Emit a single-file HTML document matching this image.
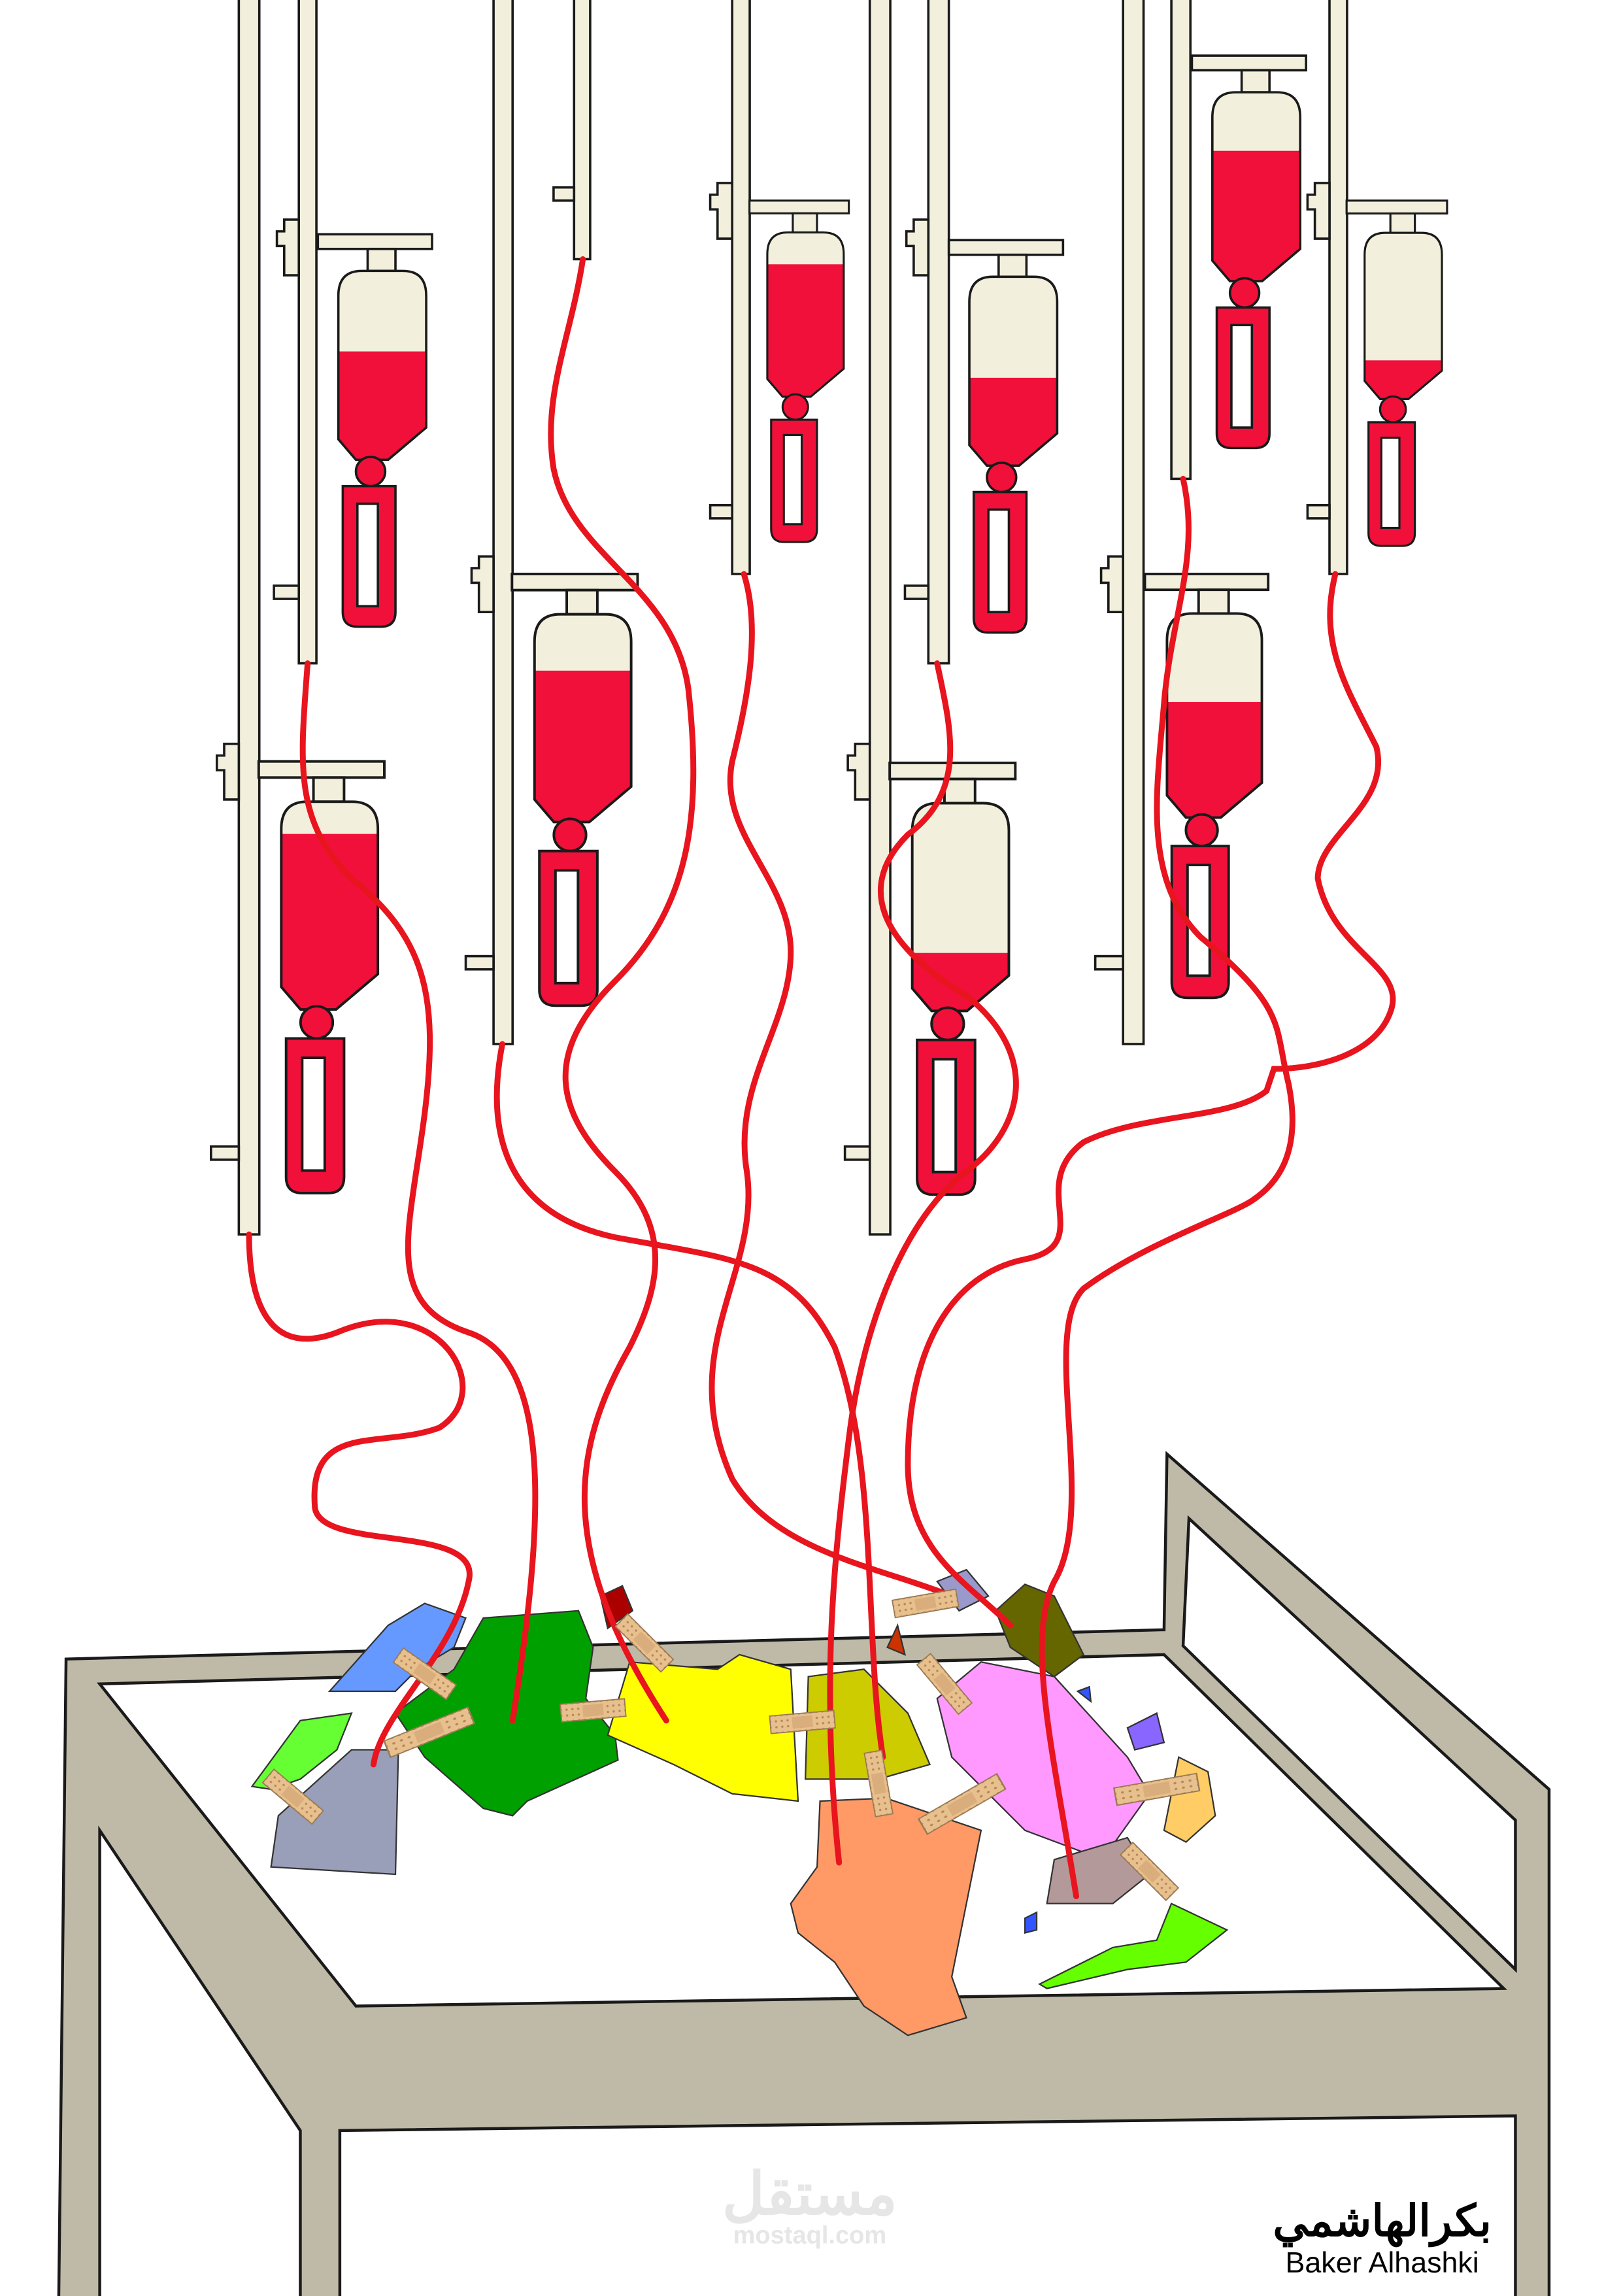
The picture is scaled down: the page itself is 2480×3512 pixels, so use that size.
<!DOCTYPE html>
<html><head><meta charset="utf-8"><style>
html,body{margin:0;padding:0;background:#fff}
svg{display:block}
</style></head><body>
<svg width="2480" height="3512" viewBox="0 0 1107 1568" xmlns="http://www.w3.org/2000/svg">
<defs>
<path id="body" d="M0,42 Q0,25 16,25 L44,25 Q60,25 60,42 L60,132 L34,154 L12,154 L0,140 Z"/>
<clipPath id="bc"><path d="M0,42 Q0,25 16,25 L44,25 Q60,25 60,42 L60,132 L34,154 L12,154 L0,140 Z"/></clipPath>
<g id="top" stroke="#1a1a1a" stroke-width="1.6" fill="#f2f0dc">
<rect x="-14" y="0" width="78" height="10"/>
<rect x="20" y="10" width="19" height="15"/>
</g>
<g id="low" stroke="#1a1a1a" stroke-width="1.6">
<circle cx="22" cy="162" r="10" fill="#f0103a"/>
<path d="M3,172 L39,172 L39,258 Q39,268 29,268 L13,268 Q3,268 3,258 Z" fill="#f0103a"/>
<rect x="13" y="184" width="14" height="70" fill="#fff"/>
</g>
<pattern id="dots" width="4" height="4" patternUnits="userSpaceOnUse"><rect width="4" height="4" fill="#e8c08e"/><circle cx="2" cy="2" r="0.8" fill="#b58a5a"/></pattern>
<g id="band"><rect x="-22" y="-6" width="44" height="12" fill="url(#dots)" stroke="#9a7a55" stroke-width="0.8"/><rect x="-7" y="-4" width="14" height="8" fill="#d9ae7c"/></g>
</defs>
<rect width="1107" height="1568" fill="#fff"/>

<g fill="#f2f0dc" stroke="#1a1a1a" stroke-width="1.6">
<rect x="163" y="-2" width="14" height="845"/>
<rect x="204" y="-2" width="12" height="455"/>
<rect x="337" y="-2" width="13" height="715"/>
<rect x="392" y="-2" width="11" height="179"/>
<rect x="500" y="-2" width="12" height="394"/>
<rect x="594" y="-2" width="14" height="845"/>
<rect x="634" y="-2" width="14" height="455"/>
<rect x="767" y="-2" width="14" height="715"/>
<rect x="800" y="-2" width="13" height="329"/>
<rect x="908" y="-2" width="12" height="394"/>
<path d="M204,150 h-10 v8 h-5 v10 h5 v20 h10 z"/><rect x="187" y="400" width="17" height="9"/>
<path d="M163,508 h-10 v8 h-5 v10 h5 v20 h10 z"/><rect x="144" y="783" width="19" height="9"/>
<path d="M337,380 h-10 v8 h-5 v10 h5 v20 h10 z"/><rect x="318" y="653" width="19" height="9"/>
<rect x="378" y="128" width="14" height="9"/>
<path d="M500,125 h-10 v8 h-5 v10 h5 v20 h10 z"/><rect x="485" y="345" width="15" height="9"/>
<path d="M594,508 h-10 v8 h-5 v10 h5 v20 h10 z"/><rect x="577" y="783" width="17" height="9"/>
<path d="M634,150 h-10 v8 h-5 v10 h5 v20 h10 z"/><rect x="618" y="400" width="16" height="9"/>
<path d="M767,380 h-10 v8 h-5 v10 h5 v20 h10 z"/><rect x="748" y="653" width="19" height="9"/>
<path d="M908,125 h-10 v8 h-5 v10 h5 v20 h10 z"/><rect x="893" y="345" width="15" height="9"/>
</g>

<g transform="translate(231,160)"><use href="#top"/><use href="#body" fill="#f2f0dc"/><rect y="80" width="60" height="100" fill="#f0103a" clip-path="url(#bc)"/><use href="#body" fill="none" stroke="#1a1a1a" stroke-width="1.6"/><use href="#low"/></g>
<g transform="translate(192,520) scale(1.1)"><use href="#top"/><use href="#body" fill="#f2f0dc"/><rect y="45" width="60" height="120" fill="#f0103a" clip-path="url(#bc)"/><use href="#body" fill="none" stroke="#1a1a1a" stroke-width="1.6"/><use href="#low"/></g>
<g transform="translate(365,392) scale(1.1)"><use href="#top"/><use href="#body" fill="#f2f0dc"/><rect y="60" width="60" height="120" fill="#f0103a" clip-path="url(#bc)"/><use href="#body" fill="none" stroke="#1a1a1a" stroke-width="1.6"/><use href="#low"/></g>
<g transform="translate(524,137) scale(0.87)"><use href="#top"/><use href="#body" fill="#f2f0dc"/><rect y="50" width="60" height="120" fill="#f0103a" clip-path="url(#bc)"/><use href="#body" fill="none" stroke="#1a1a1a" stroke-width="1.6"/><use href="#low"/></g>
<g transform="translate(662,164)"><use href="#top"/><use href="#body" fill="#f2f0dc"/><rect y="94" width="60" height="120" fill="#f0103a" clip-path="url(#bc)"/><use href="#body" fill="none" stroke="#1a1a1a" stroke-width="1.6"/><use href="#low"/></g>
<g transform="translate(623,521) scale(1.1)"><use href="#top"/><use href="#body" fill="#f2f0dc"/><rect y="118" width="60" height="120" fill="#f0103a" clip-path="url(#bc)"/><use href="#body" fill="none" stroke="#1a1a1a" stroke-width="1.6"/><use href="#low"/></g>
<g transform="translate(828,38)"><use href="#top"/><use href="#body" fill="#f2f0dc"/><rect y="65" width="60" height="120" fill="#f0103a" clip-path="url(#bc)"/><use href="#body" fill="none" stroke="#1a1a1a" stroke-width="1.6"/><use href="#low"/></g>
<g transform="translate(932,137) scale(0.88)"><use href="#top"/><use href="#body" fill="#f2f0dc"/><rect y="124" width="60" height="120" fill="#f0103a" clip-path="url(#bc)"/><use href="#body" fill="none" stroke="#1a1a1a" stroke-width="1.6"/><use href="#low"/></g>
<g transform="translate(797,392) scale(1.08)"><use href="#top"/><use href="#body" fill="#f2f0dc"/><rect y="81" width="60" height="120" fill="#f0103a" clip-path="url(#bc)"/><use href="#body" fill="none" stroke="#1a1a1a" stroke-width="1.6"/><use href="#low"/></g>

<path fill-rule="evenodd" fill="#bfbaa7" stroke="#1a1a1a" stroke-width="2"
d="M45,1133 L795,1113 L797,993 L1058,1222 L1058,1570 L1035,1570 L1035,1445 L232,1455 L232,1570 L205,1570 L205,1455 L68,1250 L68,1570 L40,1570 Z
M68,1150 L795,1130 L1027,1358 L243,1370 Z
M812,1037 L1035,1243 L1035,1345 L808,1124 Z"/>

<g stroke="#333" stroke-width="1">
<polygon fill="#6699ff" points="225,1155 265,1110 290,1095 318,1105 310,1125 285,1140 270,1155"/>
<polygon fill="#66ff33" points="172,1220 205,1175 240,1170 230,1195 205,1215 185,1222"/>
<polygon fill="#999fb8" points="190,1240 240,1195 272,1195 270,1280 185,1275"/>
<polygon fill="#00a000" points="270,1170 310,1140 330,1105 395,1100 405,1125 400,1160 420,1185 422,1202 360,1230 350,1240 330,1235 290,1200"/>
<polygon fill="#ffff00" points="415,1185 430,1135 490,1140 505,1130 540,1140 545,1230 500,1225 460,1205"/>
<polygon fill="#cccc00" points="550,1215 552,1145 590,1140 620,1170 635,1205 600,1215"/>
<polygon fill="#ff9966" points="540,1300 558,1275 560,1230 605,1228 670,1250 660,1300 650,1350 660,1378 620,1390 590,1370 570,1340 545,1320"/>
<polygon fill="#ff99ff" points="640,1160 670,1135 720,1145 770,1200 785,1225 760,1260 740,1265 700,1250 650,1200"/>
<polygon fill="#666600" points="680,1100 700,1082 720,1090 740,1130 720,1145 690,1125"/>
<polygon fill="#9999cc" points="640,1080 660,1072 675,1090 655,1100"/>
<polygon fill="#ffcc66" points="795,1250 805,1200 825,1210 830,1240 810,1258"/>
<polygon fill="#b39999" points="715,1300 720,1270 770,1255 785,1280 760,1300"/>
<polygon fill="#66ff00" points="710,1355 760,1330 790,1325 800,1300 838,1318 810,1340 770,1345 715,1358"/>
<polygon fill="#aa0000" points="410,1090 425,1083 432,1100 415,1112"/>
<polygon fill="#8866ff" points="770,1180 790,1170 795,1190 775,1195"/>
<polygon fill="#3355ff" points="736,1155 744,1152 745,1162"/>
<polygon fill="#3355ff" points="700,1310 708,1306 708,1318 700,1320"/>
<polygon fill="#cc3300" points="606,1125 613,1110 618,1130"/>
</g>

<g fill="none" stroke="#e8141e" stroke-width="4" stroke-linecap="round">
<path d="M170,843 C170,900 190,925 230,910 C300,880 340,950 300,975 C260,990 210,970 215,1030 C220,1060 330,1040 320,1080 C310,1130 260,1170 255,1205"/>
<path d="M210,453 C205,520 200,560 240,600 C290,640 300,680 290,760 C280,840 260,890 320,910 C380,930 370,1050 350,1175"/>
<path d="M398,177 C390,230 370,270 378,320 C390,380 460,400 470,470 C480,560 470,620 420,670 C370,720 380,760 420,800 C460,840 450,880 430,920 C390,990 380,1060 455,1175"/>
<path d="M343,713 C330,780 350,830 420,845 C500,860 540,860 570,920 C600,1000 590,1120 603,1200"/>
<path d="M508,392 C520,430 510,480 500,520 C490,570 540,600 540,650 C540,700 500,740 510,800 C520,870 460,920 500,1010 C530,1060 600,1070 650,1090"/>
<path d="M640,453 C650,500 660,540 620,570 C580,610 610,650 660,680 C710,720 700,770 660,800 C620,830 590,900 580,980 C570,1060 560,1150 573,1272"/>
<path d="M808,327 C820,380 800,420 795,480 C790,540 780,600 820,640 C880,690 870,700 880,740 C890,790 870,810 855,820 C840,830 780,850 740,880 C710,910 750,1030 720,1080 C700,1120 720,1200 735,1295"/>
<path d="M912,392 C900,440 920,470 940,510 C950,550 900,570 900,600 C910,650 960,660 950,690 C940,720 900,730 870,730 L865,745 C840,765 780,760 740,780 C700,810 750,850 700,860 C650,870 620,920 620,1000 C620,1060 660,1080 690,1110"/>
</g>

<use href="#band" transform="translate(290,1143) rotate(35)"/>
<use href="#band" transform="translate(293,1183) rotate(-22) scale(1.4,1)"/>
<use href="#band" transform="translate(200,1227) rotate(40)"/>
<use href="#band" transform="translate(405,1168) rotate(-5)"/>
<use href="#band" transform="translate(440,1122) rotate(45)"/>
<use href="#band" transform="translate(548,1176) rotate(-5)"/>
<use href="#band" transform="translate(600,1218) rotate(80)"/>
<use href="#band" transform="translate(657,1232) rotate(-30) scale(1.4,1)"/>
<use href="#band" transform="translate(632,1095) rotate(-10)"/>
<use href="#band" transform="translate(645,1150) rotate(50)"/>
<use href="#band" transform="translate(790,1222) rotate(-10) scale(1.3,1)"/>
<use href="#band" transform="translate(785,1278) rotate(45)"/>

<text x="553" y="1512" text-anchor="middle" font-family="'Liberation Sans','Noto Sans CJK SC',sans-serif" font-size="40" font-weight="bold" fill="#e6e6e6">مستقل</text>
<text x="553" y="1532" text-anchor="middle" font-family="'Liberation Sans',sans-serif" font-size="17" font-weight="bold" fill="#e6e6e6">mostaql.com</text>
<text x="944" y="1527" text-anchor="middle" font-family="'Liberation Sans','Noto Sans CJK SC',sans-serif" font-size="30" font-weight="bold" fill="#000">بكرالهاشمي</text>
<text x="944" y="1552" text-anchor="middle" font-family="'Liberation Sans',sans-serif" font-size="20" fill="#000">Baker Alhashki</text>
</svg>
</body></html>
